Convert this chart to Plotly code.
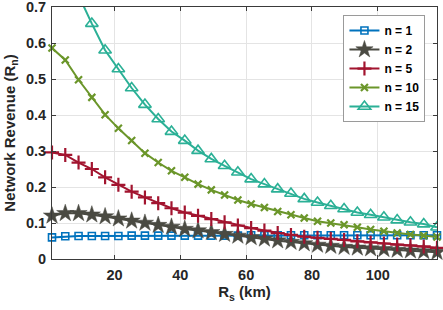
import plotly.graph_objects as go

# x positions (R_s in km)
rs_km = [1, 5.034, 9.069, 13.103, 17.138, 21.172, 25.207, 29.241, 33.276, 37.310,
         41.345, 45.379, 49.414, 53.448, 57.483, 61.517, 65.552, 69.586, 73.621, 77.655,
         81.690, 85.724, 89.759, 93.793, 97.828, 101.862, 105.897, 109.931, 113.966, 118]

rev_n1 = [0.060, 0.063, 0.064, 0.064, 0.064, 0.064, 0.065, 0.065, 0.065, 0.065,
          0.065, 0.065, 0.065, 0.065, 0.065, 0.066, 0.066, 0.066, 0.066, 0.066,
          0.066, 0.066, 0.066, 0.066, 0.066, 0.066, 0.066, 0.066, 0.066, 0.066]

rev_n2 = [0.120, 0.127, 0.127, 0.123, 0.118, 0.112, 0.106, 0.100, 0.094, 0.089,
          0.083, 0.079, 0.074, 0.069, 0.064, 0.060, 0.056, 0.051, 0.047, 0.043,
          0.039, 0.036, 0.033, 0.031, 0.029, 0.027, 0.025, 0.023, 0.021, 0.019]

rev_n5 = [0.296, 0.289, 0.268, 0.250, 0.227, 0.206, 0.187, 0.171, 0.155, 0.141,
          0.129, 0.120, 0.111, 0.102, 0.093, 0.086, 0.079, 0.072, 0.067, 0.062,
          0.059, 0.056, 0.053, 0.049, 0.046, 0.043, 0.040, 0.038, 0.035, 0.031]

rev_n10 = [0.586, 0.553, 0.498, 0.449, 0.401, 0.363, 0.329, 0.294, 0.268, 0.245,
           0.227, 0.208, 0.192, 0.178, 0.164, 0.153, 0.143, 0.132, 0.123, 0.114,
           0.105, 0.100, 0.095, 0.088, 0.082, 0.077, 0.072, 0.068, 0.065, 0.061]

rev_n15 = [0.890, 0.810, 0.730, 0.654, 0.580, 0.528, 0.475, 0.429, 0.389, 0.354,
           0.329, 0.301, 0.278, 0.259, 0.241, 0.222, 0.208, 0.194, 0.182, 0.167,
           0.157, 0.148, 0.139, 0.129, 0.123, 0.116, 0.108, 0.102, 0.097, 0.088]

series_names = ["n = 1", "n = 2", "n = 5", "n = 10", "n = 15"]

x_ticks = [20, 40, 60, 80, 100]
y_ticks = [0, 0.1, 0.2, 0.3, 0.4, 0.5, 0.6, 0.7]
y_tick_text = ["0", "0.1", "0.2", "0.3", "0.4", "0.5", "0.6", "0.7"]

colors = ["#0072BD", "#4a4a42", "#A2142F", "#6b962a", "#2bb096"]
symbols = ["square-open", "star", "cross-thin", "x-thin", "triangle-up-open"]
msizes = [7, 13, 10, 7, 11]
mlw = [1.6, 0.5, 2.2, 2.2, 1.6]

FONT = "Liberation Sans, Arial, sans-serif"

fig = go.Figure()
for i, ys in enumerate([rev_n1, rev_n2, rev_n5, rev_n10, rev_n15]):
    fig.add_trace(go.Scatter(
        x=rs_km, y=ys, mode="lines+markers", name=series_names[i],
        line=dict(color=colors[i], width=2),
        marker=dict(symbol=symbols[i], size=msizes[i], color=colors[i],
                    line=dict(color=colors[i], width=mlw[i])),
        cliponaxis=(i == 4),
    ))

axis_common = dict(
    showline=True, linecolor="#3a3a3a", linewidth=1, mirror="ticks",
    ticks="inside", ticklen=4, tickcolor="#3a3a3a",
    showgrid=True, gridcolor="#e4e4e4", gridwidth=1,
    zeroline=False, automargin=False, ticklabeloverflow="allow",
    tickfont=dict(family=FONT, size=14.5, color="#262626", weight="bold"),
)

fig.update_xaxes(range=[1, 118], tickvals=x_ticks, ticklabelstandoff=3,
                 title=dict(text="R<sub>s</sub> (km)", standoff=4,
                            font=dict(family=FONT, size=15, color="#262626", weight="bold")),
                 **axis_common)
fig.update_yaxes(range=[0, 0.7001], tickvals=y_ticks, ticktext=y_tick_text,
                 ticklabelstandoff=2,
                 title=dict(text="Network Revenue (R<sub>n</sub>)", standoff=6,
                            font=dict(family=FONT, size=15, color="#262626", weight="bold")),
                 **axis_common)

fig.update_layout(
    width=443, height=310,
    margin=dict(l=52, r=6, t=7, b=51),
    paper_bgcolor="white", plot_bgcolor="white",
    showlegend=True,
    legend=dict(x=0.97, y=0.968, xanchor="right", yanchor="top",
                bgcolor="white", bordercolor="#9a9a9a", borderwidth=1,
                font=dict(family=FONT, size=12, color="#000000", weight="bold"),
                tracegroupgap=0, itemwidth=30),
)

fig.write_html("out.html",
               config={"displayModeBar": False},
               post_script="document.body.style.margin='0';document.body.style.padding='0';")
